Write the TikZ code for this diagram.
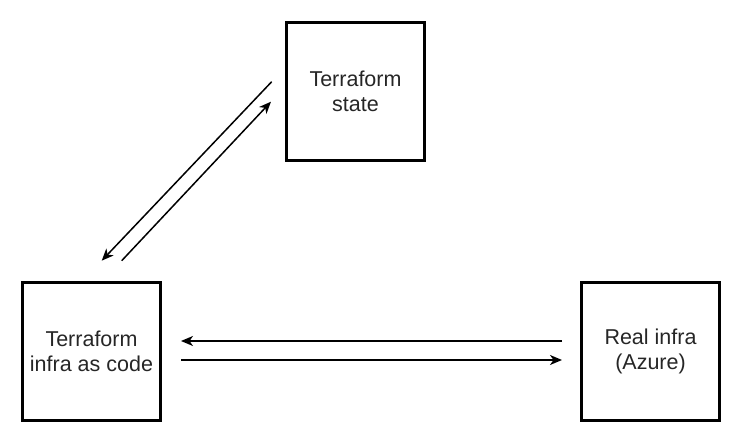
\documentclass[tikz,border=0pt]{standalone}
\usepackage{fontspec}
\setmainfont{Liberation Sans}
\usetikzlibrary{arrows.meta}
\begin{document}
\begin{tikzpicture}[x=1pt,y=-1pt,
  box/.style={draw=black,line width=3pt,minimum width=138pt,minimum height=138pt,inner sep=0pt,align=center,font=\fontsize{21.5}{25.5}\selectfont,text=black!85},
  conn/.style={draw=black,line width=1.5pt,-{Stealth[length=12pt,width=10pt,inset=3.5pt]}}]
\useasboundingbox (0,0) rectangle (743,443);
\node[box] (state) at (355.5,91.5) {Terraform\\state};
\node[box] (code) at (91.5,351.5) {Terraform\\infra as code};
\node[box] (real) at (650.5,351.5) {Real infra\\(Azure)};
\coordinate (d1s) at (271.7,81.7);
\coordinate (d1e) at (101.7,260.7);
\coordinate (d2s) at (121.7,260.7);
\coordinate (d2e) at (271,101.7);
\draw[conn] (d1s) -- (d1e);
\draw[conn] (d2s) -- (d2e);
\draw[conn] ([xshift=-18pt,yshift=10.5pt]real.west) -- ([xshift=19pt,yshift=10.5pt]code.east);
\draw[conn] ([xshift=19pt,yshift=-8.5pt]code.east) -- ([xshift=-18pt,yshift=-8.5pt]real.west);
\end{tikzpicture}
\end{document}
